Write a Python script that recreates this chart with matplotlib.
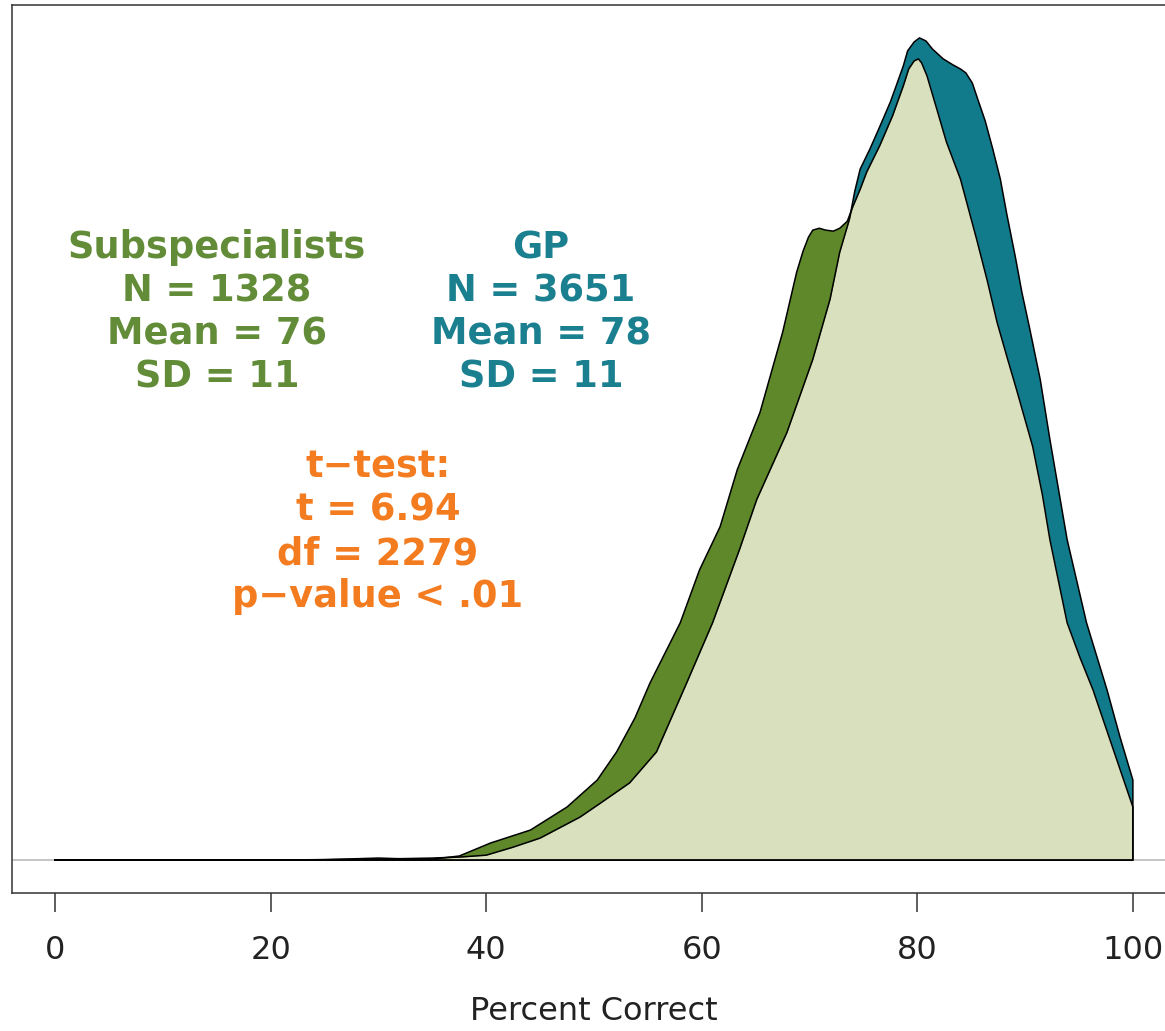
import numpy as np
import matplotlib
matplotlib.use("Agg")
import matplotlib.pyplot as plt

plt.rcParams['font.family'] = ['DejaVu Sans']

# density curves (percent correct, density)
gp_x = [0, 20, 30, 35, 37.6, 40, 42.5, 45, 48.7, 50.6, 53.3, 55.8, 58.6, 61.0,
        63.5, 65.1, 67.9, 70.3, 71.9, 72.8, 73.7, 74.2, 74.7, 75.6, 76.5, 77.5,
        78.1, 78.7, 79.1, 79.7, 80.2, 80.8, 81.4, 82.4, 83.3, 84.0, 84.5, 85.1,
        85.6, 86.3, 87.0, 87.7, 88.3, 89.1, 89.7, 90.4, 91.4, 92.3, 93.9, 95.7,
        97.6, 98.8, 100]
gp_y = [0, 0, 0.00005, 0.0001, 0.00015, 0.00024, 0.00063, 0.00107, 0.00209,
        0.00277, 0.00375, 0.00526, 0.00861, 0.01153, 0.01509, 0.01752, 0.02078,
        0.02433, 0.02725, 0.02954, 0.03114, 0.03251, 0.03358, 0.03455, 0.03562,
        0.03684, 0.03771, 0.03859, 0.03932, 0.03975, 0.03995, 0.03980, 0.03941,
        0.03893, 0.03864, 0.03844, 0.03825, 0.03776, 0.03698, 0.03591, 0.03455,
        0.03309, 0.03139, 0.02929, 0.02759, 0.02589, 0.02336, 0.02044, 0.01557,
        0.01153, 0.00827, 0.00599, 0.00389]

sub_x = [0, 20, 25, 30, 33, 35, 37.5, 40.4, 44.1, 47.5, 50.3, 52.1, 53.8, 55.2,
         58.0, 59.8, 61.7, 63.3, 65.4, 67.5, 68.8, 69.4, 69.9, 70.3, 70.9, 71.5,
         72.2, 72.8, 73.5, 74.0, 74.7, 75.3, 76.5, 77.7, 78.7, 79.2, 79.7, 80.1,
         80.4, 80.9, 81.8, 82.7, 84.0, 85.5, 86.5, 87.4, 88.3, 89.2, 90.7, 91.6,
         92.3, 93.9, 95.1, 96.3, 98.1, 100]
sub_y = [0, 0, 0.00002, 0.0001, 0.00005, 0.00005, 0.0002, 0.00083, 0.00146,
         0.00258, 0.00389, 0.00526, 0.00691, 0.00861, 0.01153, 0.01411, 0.01620,
         0.01898, 0.02175, 0.02564, 0.02856, 0.02959, 0.03027, 0.03061, 0.03070,
         0.03061, 0.03056, 0.03070, 0.03104, 0.03173, 0.03260, 0.03343, 0.03470,
         0.03616, 0.03762, 0.03844, 0.03883, 0.03893, 0.03873, 0.03810, 0.03650,
         0.03489, 0.03309, 0.03017, 0.02813, 0.02613, 0.02448, 0.02287, 0.02010,
         0.01776, 0.01557, 0.01153, 0.00983, 0.00827, 0.00550, 0.00258]

ticks = [0, 20, 40, 60, 80, 100]

teal = '#117b8c'
green = '#5e8829'
light = '#d8e0bd'
teal_txt = '#1a7f8e'
green_txt = '#628c38'
orange = '#f47c20'

fig = plt.figure(figsize=(11.65, 10.31), dpi=100)
ax = fig.add_axes([12 / 1165, 138 / 1031, 1164 / 1165, 888 / 1031])

ax.axhline(0, color='#bbbbbb', lw=1.2, zorder=0)

# full polygons
ax.fill(gp_x + [100], gp_y + [0], facecolor=teal, edgecolor='none', zorder=1)
ax.fill(sub_x + [100], sub_y + [0], facecolor=green, edgecolor='none', zorder=2)

# overlap region
grid = np.union1d(gp_x, sub_x)
overlap = np.minimum(np.interp(grid, gp_x, gp_y), np.interp(grid, sub_x, sub_y))
ax.fill_between(grid, 0, overlap, color=light, lw=0, zorder=3)

for xs, ys in [(gp_x, gp_y), (sub_x, sub_y)]:
    ax.plot(xs + [100, 0], ys + [0, 0], color='black', lw=1.1, zorder=4,
            solid_joinstyle='round')

m = max(gp_y)
ax.set_xlim(-4, 104)
ax.set_ylim(-0.04 * m, 1.04 * m)

ax.set_xticks(ticks)
ax.set_xticklabels([str(t) for t in ticks])
ax.tick_params(axis='x', length=14, width=1.1, color='#333333', pad=16,
               labelsize=23, labelcolor='#222222')
ax.set_yticks([])
for s in ['left', 'top', 'bottom', 'right']:
    ax.spines[s].set_color('#333333')
    ax.spines[s].set_linewidth(1.1)

fig.text(594 / 1165, 1 - 1020 / 1031, 'Percent Correct', ha='center', va='baseline',
         fontsize=23, color='#222222')

kw = dict(ha='center', va='center', fontsize=26.5, fontweight='bold')
sub_lines = ['Subspecialists', 'N = 1328', 'Mean = 76', 'SD = 11']
gp_lines = ['GP', 'N = 3651', 'Mean = 78', 'SD = 11']
t_lines = ['t\u2212test:', 't = 6.94', 'df = 2279', 'p\u2212value < .01']
for i, s in enumerate(sub_lines):
    fig.text(217 / 1165, 1 - (248 + 43 * i) / 1031, s, color=green_txt, **kw)
for i, s in enumerate(gp_lines):
    fig.text(541 / 1165, 1 - (248 + 43 * i) / 1031, s, color=teal_txt, **kw)
for i, s in enumerate(t_lines):
    fig.text(378 / 1165, 1 - (467 + 43.3 * i) / 1031, s, color=orange, **kw)

fig.savefig('out.png', dpi=100)
